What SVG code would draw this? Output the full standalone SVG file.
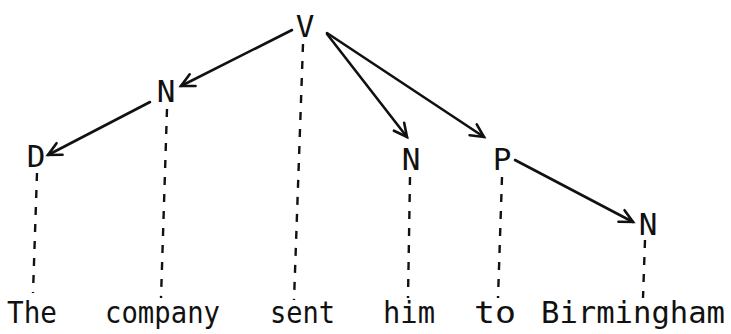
<svg xmlns="http://www.w3.org/2000/svg" width="731" height="334" viewBox="0 0 731 334">
<style>
.node{font-family:"DejaVu Sans Mono","Liberation Mono",monospace;font-size:31px;fill:#111;text-anchor:middle}
.word{font-family:"DejaVu Sans Mono","Liberation Mono",monospace;font-size:31px;fill:#111}
.arrow{fill:none;stroke:#111;stroke-width:2.6;stroke-linecap:round;marker-end:url(#head)}
.dash{fill:none;stroke:#111;stroke-width:2.4;stroke-dasharray:8 9}
</style>
<defs>
<marker id="head" markerUnits="userSpaceOnUse" markerWidth="20" markerHeight="20" viewBox="-15 -10 20 20" refX="0" refY="0" orient="auto">
<path d="M -13 -6.5 L 0 0 L -13 6.5" fill="none" stroke="#111" stroke-width="2.6" stroke-linecap="round" stroke-linejoin="miter"/>
</marker>
</defs>
<rect width="731" height="334" fill="#fff"/>
<g id="connectors">
<line class="arrow" x1="292" y1="30" x2="181" y2="86"/>
<line class="arrow" x1="150" y1="102" x2="48" y2="155"/>
<line class="arrow" x1="327" y1="34" x2="407" y2="137"/>
<line class="arrow" x1="327" y1="33" x2="484" y2="137"/>
<line class="arrow" x1="515" y1="160" x2="633" y2="222"/>
<line class="dash" x1="37" y1="173" x2="33" y2="293"/>
<line class="dash" x1="167" y1="109" x2="161" y2="298"/>
<line class="dash" x1="303" y1="44" x2="294" y2="300"/>
<line class="dash" x1="410" y1="177" x2="408" y2="298"/>
<line class="dash" x1="502" y1="177" x2="498" y2="298"/>
<line class="dash" x1="645" y1="240" x2="643" y2="298"/>
</g>
<g id="node-V"><text class="node" x="305" y="37">V</text></g>
<g id="node-N1"><text class="node" x="166" y="102">N</text></g>
<g id="node-D"><text class="node" x="36" y="167">D</text></g>
<g id="node-N2"><text class="node" x="411" y="170">N</text></g>
<g id="node-P"><text class="node" x="502" y="170">P</text></g>
<g id="node-N3"><text class="node" x="648" y="235">N</text></g>
<g id="words">
<text class="word" x="7" y="323" textLength="50" lengthAdjust="spacingAndGlyphs">The</text>
<text class="word" x="105" y="323" textLength="115" lengthAdjust="spacingAndGlyphs">company</text>
<text class="word" x="270" y="323" textLength="65" lengthAdjust="spacingAndGlyphs">sent</text>
<text class="word" x="383" y="323" textLength="52" lengthAdjust="spacingAndGlyphs">him</text>
<text class="word" x="474" y="323" textLength="42" lengthAdjust="spacingAndGlyphs">to</text>
<text class="word" x="541" y="323" textLength="184" lengthAdjust="spacingAndGlyphs">Birmingham</text>
</g>
</svg>
